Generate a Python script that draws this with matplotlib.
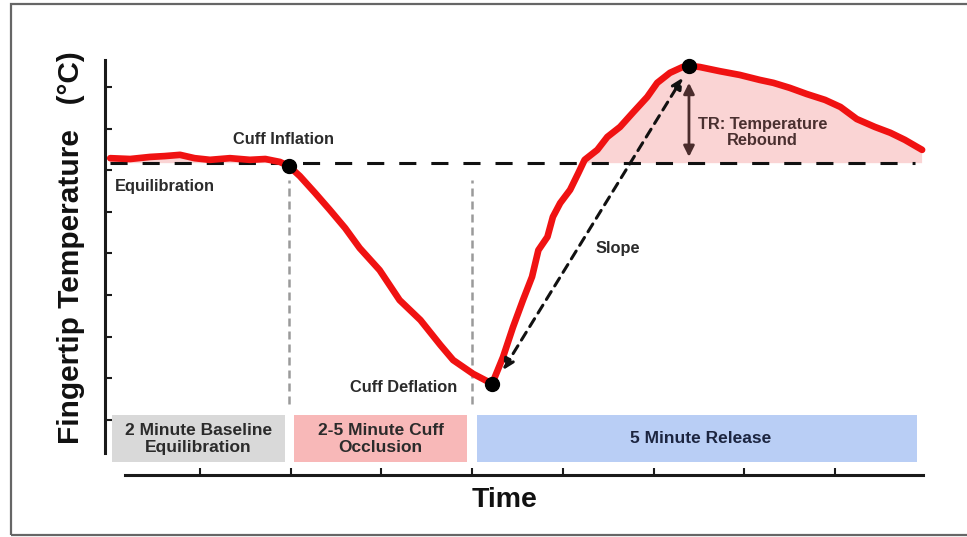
import numpy as np
import matplotlib
matplotlib.use("Agg")
import matplotlib.pyplot as plt
from matplotlib.patches import Rectangle

plt.rcParams['font.family'] = ['Liberation Sans', 'DejaVu Sans']

# fingertip temperature trace (time in minutes, temperature in tick units)
time = [0.01, 0.23, 0.45, 0.61, 0.78, 0.94, 1.11, 1.33, 1.55, 1.72, 1.88, 1.98,
        2.10, 2.27, 2.43, 2.60, 2.76, 2.98, 3.20, 3.43, 3.65, 3.79, 4.01, 4.22,
        4.34, 4.45, 4.56, 4.66, 4.73, 4.83, 4.89, 4.97, 5.08, 5.17, 5.24, 5.38,
        5.49, 5.63, 5.77, 5.93, 6.04, 6.18, 6.32, 6.39, 6.51, 6.73, 6.95, 7.17,
        7.32, 7.50, 7.69, 7.89, 8.06, 8.24, 8.44, 8.61, 8.77, 8.96]
temp = [6.29, 6.27, 6.32, 6.34, 6.37, 6.29, 6.25, 6.29, 6.25, 6.27, 6.20, 6.10,
        5.86, 5.45, 5.05, 4.61, 4.13, 3.60, 2.88, 2.40, 1.80, 1.44, 1.11, 0.87,
        1.51, 2.23, 2.88, 3.44, 4.08, 4.40, 4.88, 5.21, 5.53, 5.93, 6.25, 6.49,
        6.80, 7.04, 7.38, 7.76, 8.10, 8.34, 8.48, 8.51, 8.48, 8.38, 8.29, 8.17,
        8.10, 7.98, 7.83, 7.69, 7.52, 7.23, 7.04, 6.90, 6.73, 6.49]

baseline = 6.17
baseline_span = [0.01, 8.88]

# events: cuff inflation, cuff deflation, peak
event_t = [1.98, 4.22, 6.39]
event_v = [6.10, 0.87, 8.51]
phase_lines = [1.98, 4.00]

# slope arrow and temperature rebound arrow
slope_start = (4.34, 1.20)
slope_end = (6.32, 8.22)
tr_t = 6.39
tr_range = (6.32, 8.10)

# protocol phases
phase_labels = ["2 Minute Baseline\nEquilibration", "2-5 Minute Cuff\nOcclusion", "5 Minute Release"]
phase_start = [0.03, 2.04, 4.05]
phase_end = [1.94, 3.94, 8.90]
phase_colors = ["#d9d9d9", "#f8b8b8", "#b9cef5"]
phase_text_colors = ["#2b2b2b", "#2b2b2b", "#1c2540"]

fig = plt.figure(figsize=(9.67, 5.37), dpi=100)
ax = fig.add_axes([0, 0, 1, 1])
ax.set_xlim(-1.205, 9.455)
ax.set_ylim(-2.811, 10.09)
ax.patch.set_alpha(0)

# frame around the figure
fig.patches.append(Rectangle((0.0114, 0.0037), 1.0, 0.989, transform=fig.transFigure,
                             fill=False, edgecolor="#666666", lw=1.6))

t = np.array(time)
v = np.array(temp)
ax.fill_between(t, v, baseline, where=v >= baseline, interpolate=True,
                color="#fad4d4", lw=0, zorder=1)
ax.plot(baseline_span, [baseline, baseline], color="#111111", lw=2.2,
        dashes=(5.6, 4.9), zorder=2)
for x in phase_lines:
    ax.plot([x, x], [0.38, 5.77], color="#9a9a9a", lw=1.8, dashes=(3.2, 2.0), zorder=2)

ax.plot(t, v, color="#f01212", lw=4.8, solid_joinstyle="round",
        solid_capstyle="round", zorder=3)

ax.annotate("", xy=slope_end, xytext=slope_start,
            arrowprops=dict(arrowstyle="<|-|>", color="#111111", lw=2.2,
                            ls=(0, (3.0, 2.2)), mutation_scale=16,
                            shrinkA=0, shrinkB=0), zorder=4)
ax.annotate("", xy=(tr_t, tr_range[1]), xytext=(tr_t, tr_range[0]),
            arrowprops=dict(arrowstyle="<|-|>", color="#4a2c2c", lw=2.0,
                            mutation_scale=16, shrinkA=0, shrinkB=0), zorder=4)

ax.plot(event_t, event_v, "o", color="black", ms=10, zorder=5)

for s, e, c, lab, tc in zip(phase_start, phase_end, phase_colors, phase_labels, phase_text_colors):
    ax.add_patch(Rectangle((s, -1.01), e - s, 1.13, facecolor=c, edgecolor="none", zorder=1))
    ax.text((s + e) / 2 + (0.04 if lab.startswith("5") else 0), -0.45, lab, ha="center", va="center",
            fontsize=12.5, fontweight="bold", color=tc, linespacing=1.15)

tcol = "#2b2b2b"
ax.text(1.92, 6.75, "Cuff Inflation", ha="center", va="center", fontsize=11.8,
        fontweight="bold", color=tcol)
ax.text(0.06, 5.62, "Equilibration", ha="left", va="center", fontsize=11.8,
        fontweight="bold", color=tcol)
ax.text(3.84, 0.79, "Cuff Deflation", ha="right", va="center", fontsize=11.8,
        fontweight="bold", color=tcol)
ax.text(5.61, 4.13, "Slope", ha="center", va="center", fontsize=11.8,
        fontweight="bold", color=tcol)
ax.text(7.20, 6.90, "TR: Temperature\nRebound", ha="center", va="center",
        fontsize=11.8, fontweight="bold", color="#4a3030", linespacing=1.1)

ax.text(4.36, -1.92, "Time", ha="center", va="center", fontsize=20.5,
        fontweight="bold", color="#111111")
ax.text(-0.42, 4.14, "Fingertip Temperature   (°C)", ha="center", va="center",
        rotation=90, fontsize=21.5, fontweight="bold", color="#111111")

# axes drawn as detached spines
for side in ["top", "right"]:
    ax.spines[side].set_visible(False)
ax.spines["left"].set_position(("data", -0.046))
ax.spines["left"].set_bounds(-0.79, 8.65)
ax.spines["bottom"].set_position(("data", -1.321))
ax.spines["bottom"].set_bounds(0.17, 8.97)
for side in ["left", "bottom"]:
    ax.spines[side].set_linewidth(2.2)
    ax.spines[side].set_color("#1a1a1a")
ax.set_yticks(range(0, 9))
ax.set_xticks(range(1, 9))
ax.tick_params(axis="y", direction="in", length=5, width=1.5, color="#1a1a1a",
               labelleft=False)
ax.tick_params(axis="x", direction="in", length=5, width=1.5, color="#1a1a1a",
               labelbottom=False)

fig.savefig("out.png", dpi=100)
